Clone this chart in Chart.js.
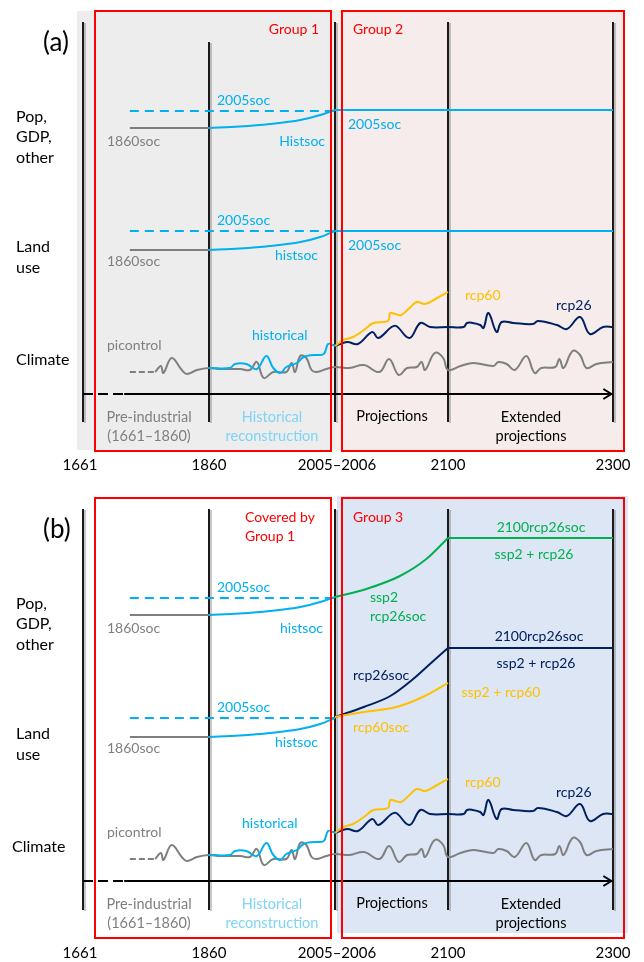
<!DOCTYPE html>
<html>
<head>
<meta charset="utf-8">
<script src="https://cdn.jsdelivr.net/npm/chart.js@4.4.1/dist/chart.umd.min.js"></script>
<style>
html, body { margin: 0; padding: 0; background: #fff; }
canvas { display: block; }
</style>
</head>
<body>
<canvas id="panel-a" width="644" height="487"></canvas>
<canvas id="panel-b" width="644" height="475"></canvas>
<script>
// time axis of the schematic (not to scale)
const yearBreaks = [1661, 1860, 2005, 2006, 2100, 2300]
const yearTicks = ['1661', '1860', '2005–2006', '2100', '2300']
const tickYears = [1661, 1860, 2005.5, 2100, 2300]

// socio-economic input levels
const preYears = [1735, 1860]
const pop1860soc = [266, 266]
const land1860soc = [144, 144]
const fixYears = [1735, 2005]
const pop2005socFix = [283, 283]
const land2005socFix = [163, 163]
const histYears = [1860, 1895, 1930, 1965, 1988, 2005]
const popHistsoc = [266, 267.5, 270, 274, 279, 284]
const landHistsoc = [144, 145.5, 148, 152, 157, 163]
const futYears = [2005, 2300]
const pop2005soc = [284, 284]
const land2005soc = [163, 163]

// group 3 scenarios
const sspYears = [2005, 2032, 2060, 2082, 2100]
const popSsp2Rcp26soc = [284, 292, 305, 322, 343]
const extYears = [2100, 2300]
const pop2100rcp26soc = [343, 343]
const landRcp26Years = [2005, 2030, 2052, 2071, 2085, 2100]
const landRcp26soc = [164, 174, 185, 202, 217, 233]
const land2100rcp26soc = [233, 233]
const landRcp60Years = [2005, 2030, 2057, 2079, 2100]
const landRcp60soc = [164, 169, 174, 184, 198]

// climate
const piDashYears = [1735, 1775]
const piDash = [22, 22]
const piYears = [1775, 1784, 1788, 1801, 1817, 1825, 1841, 1860, 1873, 1896, 1907, 1915, 1923, 1934, 1949, 1955, 1959, 1965, 1972, 1978, 1984, 1995, 2005,
  2018, 2030, 2043, 2051, 2059, 2066, 2074, 2078, 2081, 2089, 2096, 2100,
  2115, 2131, 2155, 2161, 2171, 2181, 2195, 2205, 2213, 2230, 2235, 2240, 2251, 2260, 2268, 2280, 2300]
const picontrol = [22, 28, 21, 36, 24, 20, 24, 26, 25, 25, 24, 32, 16, 22, 22, 31, 22, 38, 36, 24, 22, 25, 27,
  26, 29, 22, 35, 19, 26, 27, 32, 24, 41, 36, 24,
  28, 31, 28, 32, 30, 24, 38, 21, 26, 27, 35, 26, 43, 39, 26, 30, 32]
const histClimYears = [1860, 1884, 1890, 1903, 1915, 1926, 1934, 1942, 1949, 1961, 1969, 1980, 1992, 1997, 2003, 2005]
const historical = [26, 26, 30, 30, 25, 38, 26, 21, 27, 31, 37, 39, 40, 50, 49, 48]
const rcp60Years = [2006, 2013, 2021, 2030, 2038, 2050, 2052, 2056, 2061, 2068, 2074, 2081, 2091, 2100]
const rcp60 = [48, 54, 57, 64, 71, 73, 81, 80, 79, 86, 92, 90, 96, 102]
const rcp26Years = [2006, 2016, 2025, 2037, 2042, 2053, 2057, 2068, 2077, 2085, 2100,
  2119, 2123, 2130, 2139, 2143, 2149, 2159, 2165, 2179, 2203, 2209, 2232, 2244, 2260, 2272, 2288, 2300]
const rcp26 = [48, 52, 50, 62, 56, 67, 68, 56, 71, 67, 67,
  67, 71, 71, 69, 66, 81, 62, 72, 71, 70, 73, 69, 65, 77, 60, 67, 67]

// layout
const breakPx = [83, 209, 335, 335, 448, 613]
const AXIS_Y = 394
const FONT = 'Lato, "Open Sans", sans-serif'
const CYAN = '#00B0F0', GREY = '#7F7F7F', NAVY = '#002060', GREEN = '#00B050', YELLOW = '#FFC000', RED = '#FF0000'

class SegmentScale extends Chart.LinearScale {
  getPixelForValue(v) {
    let i = 0
    while (i < yearBreaks.length - 2 && v > yearBreaks[i + 1]) i++
    const span = yearBreaks[i + 1] - yearBreaks[i]
    const f = span ? (v - yearBreaks[i]) / span : 0
    return this.left + breakPx[i] + f * (breakPx[i + 1] - breakPx[i])
  }
  getValueForPixel() { return 0 }
}
SegmentScale.id = 'segment'
SegmentScale.defaults = Chart.LinearScale.defaults
Chart.register(SegmentScale)

function series(years, vals, color, extra) {
  return Object.assign({
    data: years.map((x, i) => ({ x, y: vals[i] })),
    borderColor: color, borderWidth: 2, pointRadius: 0, fill: false,
    cubicInterpolationMode: 'monotone'
  }, extra || {})
}
// wiggly climate traces: plain bezier smoothing
const wiggle = { cubicInterpolationMode: 'default', tension: 0.4 }

function txt(ctx, s, x, y, color, size, align) {
  ctx.font = size + 'px ' + FONT
  ctx.fillStyle = color
  ctx.textAlign = align || 'left'
  ctx.textBaseline = 'middle'
  ctx.fillText(s, x, y)
}

function vline(ctx, x, y0, y1) {
  ctx.strokeStyle = 'rgba(120,120,120,0.55)'
  ctx.lineWidth = 1.5
  ctx.beginPath(); ctx.moveTo(x + 2, y0 + 1); ctx.lineTo(x + 2, y1 + 1); ctx.stroke()
  ctx.strokeStyle = '#1a1a1a'
  ctx.lineWidth = 2
  ctx.beginPath(); ctx.moveTo(x, y0); ctx.lineTo(x, y1); ctx.stroke()
}

function rect(ctx, x0, y0, x1, y1) {
  ctx.strokeStyle = RED
  ctx.lineWidth = 2
  ctx.strokeRect(x0, y0, x1 - x0, y1 - y0)
}

function schematicPlugin(panel) {
  return {
    id: 'schematic',
    beforeDraw(chart) {
      const ctx = chart.ctx
      ctx.save()
      panel.fills.forEach(f => { ctx.fillStyle = f[4]; ctx.fillRect(f[0], f[1], f[2] - f[0], f[3] - f[1]) })
      ctx.restore()
    },
    beforeDatasetsDraw(chart) {
      const ctx = chart.ctx, xs = chart.scales.x, ys = chart.scales.y
      ctx.save()
      tickYears.forEach((yr, i) => {
        const x = xs.getPixelForValue(yr)
        vline(ctx, x, i === 1 ? panel.top1860 : 22, panel.lineBottom)
      })
      // time arrow
      const ay = ys.getPixelForValue(0)
      const x0 = xs.getPixelForValue(1661), xd = xs.getPixelForValue(1726), xt = xs.getPixelForValue(2298)
      ctx.strokeStyle = '#000'
      ctx.lineWidth = 2
      ctx.setLineDash([10, 5])
      ctx.beginPath(); ctx.moveTo(x0, ay); ctx.lineTo(xd, ay); ctx.stroke()
      ctx.setLineDash([])
      ctx.beginPath(); ctx.moveTo(xd, ay); ctx.lineTo(xt, ay); ctx.stroke()
      ctx.beginPath(); ctx.moveTo(xt - 8, ay - 5); ctx.lineTo(xt, ay); ctx.lineTo(xt - 8, ay + 5); ctx.stroke()
      ctx.restore()
    },
    afterDatasetsDraw(chart) {
      const ctx = chart.ctx, xs = chart.scales.x
      ctx.save()
      rect(ctx, 95, 11, 331, 451)
      rect(ctx, 342, 11, 624, 451)
      panel.texts.forEach(t => txt(ctx, t[0], t[1], t[2], t[3], t[4], t[5]))
      yearTicks.forEach((s, i) => txt(ctx, s, xs.getPixelForValue(tickYears[i]) + (i === 0 ? -3 : i === 2 ? 2 : 0), panel.yearY, '#000', 15, 'center'))
      ctx.restore()
    }
  }
}

const commonTexts = [
  ['Pop,', 16, 117, '#000', 16], ['GDP,', 16, 137, '#000', 16], ['other', 16, 158, '#000', 16],
  ['Land', 16, 247, '#000', 16], ['use', 16, 268, '#000', 16],
  ['2005soc', 217, 100, CYAN, 14], ['1860soc', 107, 141, GREY, 14],
  ['2005soc', 217, 220, CYAN, 14], ['1860soc', 107, 261, GREY, 14], ['histsoc', 318, 255, CYAN, 14, 'right'],
  ['picontrol', 107, 345, GREY, 14],
  ['rcp60', 465, 295, YELLOW, 14], ['rcp26', 556, 305, NAVY, 14],
  ['Pre-industrial', 149, 417, GREY, 14.5, 'center'], ['(1661–1860)', 149, 436, GREY, 14.5, 'center'],
  ['Historical', 272, 417, '#7DD4F6', 14.5, 'center'], ['reconstruction', 272, 436, '#7DD4F6', 14.5, 'center'],
  ['Projections', 392, 416, '#000', 14.5, 'center'],
  ['Extended', 531, 417, '#000', 14.5, 'center'], ['projections', 531, 436, '#000', 14.5, 'center']
]

const panelA = {
  height: 487, top1860: 42, lineBottom: 422, yearY: 465,
  fills: [[77, 11, 336, 450, '#EDEDED'], [336, 10, 625, 451, '#F5ECEB']],
  texts: commonTexts.concat([
    ['(a)', 43, 43, '#000', 26],
    ['Group 1', 319, 29, RED, 14, 'right'], ['Group 2', 353, 29, RED, 14],
    ['Climate', 16, 360, '#000', 16],
    ['Histsoc', 325, 141, CYAN, 14, 'right'], ['2005soc', 348, 124, CYAN, 14], ['2005soc', 348, 245, CYAN, 14],
    ['historical', 252, 335, CYAN, 14]
  ]),
  datasets: [
    series(preYears, pop1860soc, GREY),
    series(fixYears, pop2005socFix, CYAN, { borderDash: [9, 6] }),
    series(histYears, popHistsoc, CYAN),
    series(futYears, pop2005soc, CYAN),
    series(preYears, land1860soc, GREY),
    series(fixYears, land2005socFix, CYAN, { borderDash: [9, 6] }),
    series(histYears, landHistsoc, CYAN),
    series(futYears, land2005soc, CYAN),
    series(piDashYears, piDash, GREY, { borderDash: [6, 3] }),
    series(histClimYears, historical, CYAN, wiggle),
    series(piYears, picontrol, GREY, wiggle),
    series(rcp60Years, rcp60, YELLOW, wiggle),
    series(rcp26Years, rcp26, NAVY, wiggle)
  ]
}

const panelB = {
  height: 475, top1860: 22, lineBottom: 423, yearY: 466,
  fills: [[337, 9, 628, 446, '#DDE6F4']],
  texts: commonTexts.concat([
    ['(b)', 43, 43, '#000', 26],
    ['Covered by', 245, 30, RED, 14], ['Group 1', 245, 49, RED, 14], ['Group 3', 353, 30, RED, 14],
    ['Climate', 12, 360, '#000', 16],
    ['histsoc', 323, 141, CYAN, 14, 'right'],
    ['ssp2', 370, 110, GREEN, 14], ['rcp26soc', 370, 129, GREEN, 14],
    ['2100rcp26soc', 541, 40, GREEN, 14, 'center'], ['ssp2 + rcp26', 534, 67, GREEN, 14, 'center'],
    ['rcp26soc', 353, 188, NAVY, 14], ['rcp60soc', 353, 240, YELLOW, 14],
    ['2100rcp26soc', 539, 149, NAVY, 14, 'center'], ['ssp2 + rcp26', 536, 176, NAVY, 14, 'center'],
    ['ssp2 + rcp60', 501, 205, YELLOW, 14, 'center'],
    ['historical', 242, 336, CYAN, 14]
  ]),
  datasets: [
    series(preYears, pop1860soc, GREY),
    series(fixYears, pop2005socFix, CYAN, { borderDash: [9, 6] }),
    series(histYears, popHistsoc, CYAN),
    series(sspYears, popSsp2Rcp26soc, GREEN),
    series(extYears, pop2100rcp26soc, GREEN),
    series(preYears, land1860soc, GREY),
    series(fixYears, land2005socFix, CYAN, { borderDash: [9, 6] }),
    series(histYears, landHistsoc, CYAN),
    series(landRcp60Years, landRcp60soc, YELLOW),
    series(landRcp26Years, landRcp26soc, NAVY),
    series(extYears, land2100rcp26soc, NAVY),
    series(piDashYears, piDash, GREY, { borderDash: [6, 3] }),
    series(histClimYears, historical, CYAN, wiggle),
    series(piYears, picontrol, GREY, wiggle),
    series(rcp60Years, rcp60, YELLOW, wiggle),
    series(rcp26Years, rcp26, NAVY, wiggle)
  ]
}

function drawPanel(id, panel) {
  return new Chart(document.getElementById(id), {
    type: 'line',
    data: { datasets: panel.datasets },
    options: {
      responsive: false, animation: false, events: [],
      layout: { padding: 0 },
      plugins: { legend: { display: false }, tooltip: { enabled: false } },
      scales: {
        x: { type: 'segment', display: false, min: 1600, max: 2350 },
        y: { type: 'linear', display: false, min: AXIS_Y - panel.height, max: AXIS_Y }
      }
    },
    plugins: [schematicPlugin(panel)]
  })
}

drawPanel('panel-a', panelA)
drawPanel('panel-b', panelB)
</script>
</body>
</html>
